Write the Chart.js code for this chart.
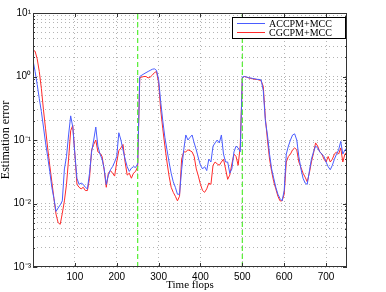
<!DOCTYPE html>
<html>
<head>
<meta charset="utf-8">
<script src="https://cdn.jsdelivr.net/npm/chart.js@4.4.1/dist/chart.umd.min.js"></script>
<style>
html, body { margin: 0; padding: 0; background: #fff; }
#wrap { width: 386px; height: 292px; }
</style>
</head>
<body>
<div id="wrap"><canvas id="chart" width="386" height="292"></canvas></div>
<script>
// time axis (flops), one sample every 5
const timeFlops = [
  0, 5, 10, 15, 20, 25, 30, 35, 40, 45, 50, 55, 60, 65, 70, 75, 80, 85, 90, 95,
  100, 105, 110, 115, 120, 125, 130, 135, 140, 145, 150, 155, 160, 165, 170, 175, 180, 185, 190, 195,
  200, 205, 210, 215, 220, 225, 230, 235, 240, 245, 250, 255, 260, 265, 270, 275, 280, 285, 290, 295,
  300, 305, 310, 315, 320, 325, 330, 335, 340, 345, 350, 355, 360, 365, 370, 375, 380, 385, 390, 395,
  400, 405, 410, 415, 420, 425, 430, 435, 440, 445, 450, 455, 460, 465, 470, 475, 480, 485, 490, 495,
  500, 505, 510, 515, 520, 525, 530, 535, 540, 545, 550, 555, 560, 565, 570, 575, 580, 585, 590, 595,
  600, 605, 610, 615, 620, 625, 630, 635, 640, 645, 650, 655, 660, 665, 670, 675, 680, 685, 690, 695,
  700, 705, 710, 715, 720, 725, 730, 735, 740, 745, 750
];
const seriesNames = ["ACCPM+MCC", "CGCPM+MCC"];
const accpmError = [
  1.8, 1.2, 0.75, 0.45, 0.28, 0.16, 0.09, 0.055, 0.032, 0.018,
  0.012, 0.0075, 0.0085, 0.0095, 0.011, 0.035, 0.055, 0.12, 0.24, 0.16,
  0.06, 0.025, 0.02, 0.021, 0.02, 0.018, 0.017, 0.03, 0.065, 0.1,
  0.16, 0.08, 0.06, 0.05, 0.035, 0.02, 0.028, 0.034, 0.038, 0.045,
  0.055, 0.13, 0.1, 0.07, 0.05, 0.038, 0.032, 0.036, 0.038, 0.037,
  0.042, 1.0, 1.05, 1.1, 1.15, 1.2, 1.25, 1.3, 1.32, 1.25,
  0.9, 0.4, 0.2, 0.11, 0.07, 0.045, 0.03, 0.022, 0.018, 0.014,
  0.014, 0.034, 0.07, 0.12, 0.1, 0.11, 0.12, 0.09, 0.07, 0.052,
  0.04, 0.035, 0.038, 0.033, 0.05, 0.045, 0.08, 0.09, 0.1, 0.09,
  0.12, 0.06, 0.045, 0.045, 0.03, 0.035, 0.065, 0.08, 0.075, 0.065,
  0.98, 1.0, 0.98, 0.96, 0.95, 0.93, 0.92, 0.9, 0.9, 0.88,
  0.6, 0.2, 0.12, 0.06, 0.035, 0.025, 0.018, 0.014, 0.012, 0.011,
  0.016, 0.06, 0.08, 0.1, 0.12, 0.125, 0.1, 0.055, 0.035, 0.025,
  0.021, 0.02, 0.032, 0.05, 0.065, 0.08, 0.075, 0.065, 0.06, 0.055,
  0.045, 0.038, 0.034, 0.04, 0.05, 0.06, 0.07, 0.095, 0.06, 0.07,
  0.075
];
const cgcpmError = [
  2.6, 2.5, 1.9, 1.2, 0.65, 0.3, 0.15, 0.075, 0.04, 0.022,
  0.012, 0.0068, 0.005, 0.0047, 0.007, 0.011, 0.02, 0.05, 0.14, 0.17,
  0.06, 0.02, 0.018, 0.017, 0.018, 0.016, 0.016, 0.025, 0.07, 0.085,
  0.1, 0.065, 0.062, 0.055, 0.034, 0.018, 0.03, 0.033, 0.03, 0.027,
  0.045, 0.068, 0.075, 0.085, 0.045, 0.028, 0.03, 0.025, 0.03, 0.032,
  0.038, 0.95, 0.98, 1.0, 1.0, 0.95, 0.98, 1.05, 1.15, 1.2,
  0.8, 0.3, 0.15, 0.08, 0.045, 0.027, 0.018, 0.015, 0.013, 0.011,
  0.013, 0.05, 0.065, 0.065, 0.07, 0.068, 0.065, 0.055, 0.035, 0.027,
  0.02, 0.016, 0.015, 0.017, 0.021, 0.02, 0.04, 0.045, 0.042, 0.04,
  0.045, 0.05, 0.035, 0.024, 0.028, 0.042, 0.06, 0.055, 0.04, 0.08,
  0.95, 1.0, 0.98, 0.95, 0.93, 0.92, 0.9, 0.9, 0.88, 0.85,
  0.7, 0.22, 0.1, 0.05, 0.032, 0.022, 0.017, 0.013, 0.011, 0.011,
  0.014, 0.045, 0.055, 0.06, 0.07, 0.075, 0.07, 0.045, 0.037, 0.03,
  0.026, 0.022, 0.03, 0.045, 0.062, 0.09, 0.08, 0.065, 0.06, 0.05,
  0.045, 0.055, 0.045, 0.05, 0.06, 0.065, 0.06, 0.075, 0.045, 0.06,
  0.065
];
// phase changes marked with green dashed lines
const switchTimes = [250, 500];
const xTicks = [100, 200, 300, 400, 500, 600, 700];
const yDecades = [0.001, 0.01, 0.1, 1, 10];
const yTickLabels = ["10\u207B\u00B3", "10\u207B\u00B2", "10\u207B\u00B9", "10\u2070", "10\u00B9"];

const blue = "#4a5cff";
const red = "#ff2a2a";

function toPoints(values) {
    return values.map((v, i) => ({ x: timeFlops[i], y: v }));
}

const datasets = [
    { label: seriesNames[0], data: toPoints(accpmError), borderColor: blue, borderWidth: 1, pointRadius: 0, tension: 0 },
    { label: seriesNames[1], data: toPoints(cgcpmError), borderColor: red, borderWidth: 1, pointRadius: 0, tension: 0 },
];
switchTimes.forEach(t => {
    datasets.unshift({
        label: "", data: [{ x: t, y: yDecades[0] }, { x: t, y: yDecades[yDecades.length - 1] }],
        borderColor: "#55ee33", borderWidth: 1.2, borderDash: [5, 3], pointRadius: 0, isMarker: true,
    });
});

// all log minor ticks 1..9 x 10^n
const yTicks = [];
for (let d = 0; d < yDecades.length - 1; d++) {
    for (let m = 1; m < 10; m++) yTicks.push(yDecades[d] * m);
}
yTicks.push(yDecades[yDecades.length - 1]);

function decadeLabel(v) {
    const idx = yDecades.findIndex(d => Math.abs(d - v) / d < 1e-6);
    return idx >= 0 ? yTickLabels[idx] : "";
}

// box, inner tick marks and the legend, MATLAB style
const framePlugin = {
    id: "frame",
    afterDraw(chart) {
        const { ctx, chartArea: a, scales } = chart;
        ctx.save();
        ctx.strokeStyle = "#333";
        ctx.lineWidth = 1;
        ctx.beginPath();
        xTicks.forEach(t => {
            const px = Math.round(scales.x.getPixelForValue(t)) + 0.5;
            ctx.moveTo(px, a.bottom); ctx.lineTo(px, a.bottom - 4);
            ctx.moveTo(px, a.top); ctx.lineTo(px, a.top + 4);
        });
        yTicks.forEach(t => {
            const py = Math.round(scales.y.getPixelForValue(t)) + 0.5;
            const len = decadeLabel(t) ? 4 : 2;
            ctx.moveTo(a.left, py); ctx.lineTo(a.left + len, py);
            ctx.moveTo(a.right, py); ctx.lineTo(a.right - len, py);
        });
        ctx.stroke();
        ctx.strokeRect(Math.round(a.left) + 0.5, Math.round(a.top) + 0.5,
            Math.round(a.right - a.left) - 1, Math.round(a.bottom - a.top) - 1);

        // legend
        const lx = 232, ly = 17, lw = 113, lh = 21;
        ctx.fillStyle = "#fff";
        ctx.fillRect(lx, ly, lw, lh);
        ctx.strokeStyle = "#000";
        ctx.strokeRect(lx + 0.5, ly + 0.5, lw, lh);
        ctx.font = "10px 'Liberation Serif', 'DejaVu Serif', serif";
        ctx.textBaseline = "middle";
        const lines = chart.data.datasets.filter(d => !d.isMarker);
        lines.forEach((d, i) => {
            const y = ly + 6 + i * 9;
            ctx.strokeStyle = d.borderColor;
            ctx.beginPath();
            ctx.moveTo(lx + 5, y + 0.5); ctx.lineTo(lx + 33, y + 0.5);
            ctx.stroke();
            ctx.fillStyle = "#000";
            ctx.fillText(d.label, lx + 37, y + 1);
        });
        ctx.restore();
    }
};

const ctx = document.getElementById("chart").getContext("2d");
const chart = new Chart(ctx, {
    type: "line",
    data: { datasets: datasets },
    plugins: [framePlugin],
    options: {
        responsive: false,
        animation: false,
        devicePixelRatio: 1,
        layout: { padding: { top: 13, right: 39, left: 0, bottom: 0 } },
        plugins: { legend: { display: false }, tooltip: { enabled: false } },
        scales: {
            x: {
                type: "linear", min: 0, max: 750,
                afterBuildTicks: s => { s.ticks = xTicks.map(v => ({ value: v })); },
                afterFit: s => { s.height = 25; },
                grid: { color: "#b4b4b4", lineWidth: 1, drawTicks: false },
                border: { display: false, dash: [1, 3] },
                ticks: { color: "#000", padding: 4, maxRotation: 0, autoSkip: false,
                         font: { family: "'Liberation Sans', Arial, sans-serif", size: 10 } },
                title: { display: true, text: "Time flops", color: "#000", padding: { top: 0, bottom: 0 },
                         font: { family: "'Liberation Serif', 'DejaVu Serif', serif", size: 11 } },
            },
            y: {
                type: "logarithmic", min: 0.001, max: 10,
                afterBuildTicks: s => { s.ticks = yTicks.map(v => ({ value: v })); },
                afterFit: s => { s.width = 33; },
                grid: { color: "#b4b4b4", lineWidth: 1, drawTicks: false },
                border: { display: false, dash: [1, 3] },
                ticks: { color: "#000", padding: 2, autoSkip: false, callback: v => decadeLabel(v),
                         font: { family: "'Liberation Sans', Arial, sans-serif", size: 10 } },
                title: { display: true, text: "Estimation error", color: "#000", padding: { top: 0, bottom: 0 },
                         font: { family: "'Liberation Serif', 'DejaVu Serif', serif", size: 12, lineHeight: 1 } },
            },
        },
    },
});
</script>
</body>
</html>
